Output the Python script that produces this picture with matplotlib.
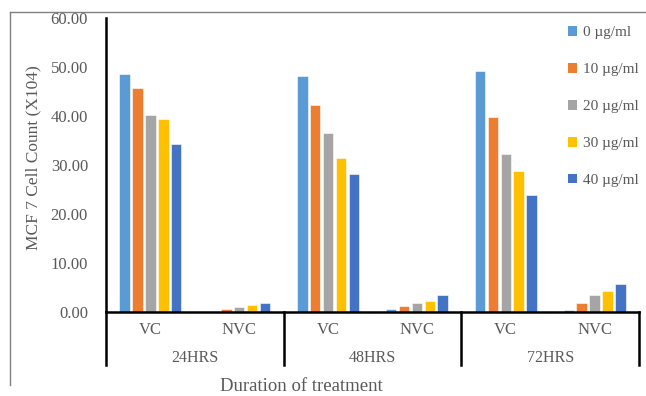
import matplotlib.pyplot as plt
import matplotlib
import numpy as np
from matplotlib.patches import Patch

matplotlib.rcParams['font.family'] = ['Liberation Serif', 'DejaVu Serif']

durations = ['24HRS', '48HRS', '72HRS']
subgroups = ['VC', 'NVC']
doses = ['0 µg/ml', '10 µg/ml', '20 µg/ml', '30 µg/ml', '40 µg/ml']
colors = ['#5B9BD5', '#ED7D31', '#A5A5A5', '#FFC000', '#4472C4']

# one list per dose, order: 24VC, 24NVC, 48VC, 48NVC, 72VC, 72NVC
dose_0 = [48.5, 0.0, 48.2, 0.6, 49.2, 0.5]
dose_10 = [45.7, 0.6, 42.3, 1.3, 39.7, 1.8]
dose_20 = [40.2, 1.0, 36.6, 1.8, 32.2, 3.5]
dose_30 = [39.4, 1.4, 31.4, 2.3, 28.7, 4.2]
dose_40 = [34.2, 1.9, 28.2, 3.5, 23.8, 5.8]
series = [dose_0, dose_10, dose_20, dose_30, dose_40]

grey = '#595959'

fig = plt.figure(figsize=(6.46, 3.96), dpi=100)
ax = fig.add_axes([106 / 646, 1 - 312 / 396, (639 - 106) / 646, (312 - 18) / 396])

x = np.arange(len(durations) * len(subgroups))
slot = 0.145
width = 0.118
for i, (vals, c) in enumerate(zip(series, colors)):
    ax.bar(x + (i - 2) * slot, vals, width=width, color=c,
           edgecolor='white', linewidth=0.4, label=doses[i])

ax.set_xlim(-0.5, len(x) - 0.5)
ax.set_ylim(0, 60)
ax.set_yticks(np.arange(0, 61, 10))
ax.set_yticklabels([f'{v:.2f}' for v in np.arange(0, 61, 10)])
ax.tick_params(axis='y', length=0, pad=13, labelsize=12, labelcolor=grey)
ax.set_xticks([])

for s in ['top', 'right']:
    ax.spines[s].set_visible(False)
ax.spines['left'].set_linewidth(1.8)
ax.spines['bottom'].set_linewidth(1.8)

# two-level category axis
trans = ax.get_xaxis_transform()
for i, lab in enumerate(subgroups * len(durations)):
    ax.text(x[i], -0.06, lab, transform=trans, ha='center', va='center',
            fontsize=12, color=grey)
for j, lab in enumerate(durations):
    ax.text(2 * j + 0.5, -0.155, lab, transform=trans, ha='center',
            va='center', fontsize=11.5, color=grey)
for b in np.arange(-0.5, len(x), 2):
    ax.plot([b, b], [0, -0.18], transform=trans, color='black',
            lw=1.8, clip_on=False)

ax.set_ylabel('MCF 7 Cell Count (X104)', fontsize=12.5, color=grey)
ax.yaxis.set_label_coords(-0.122, 0.524)
fig.text(301 / 646, 1 / 396, 'Duration of treatment', ha='center',
         va='bottom', fontsize=13.5, color=grey)

handles = [Patch(facecolor=c, edgecolor='none') for c in colors]
leg = fig.legend(handles, doses, loc='upper left',
                 bbox_to_anchor=(562 / 646, 1 - 20 / 396), frameon=False,
                 fontsize=11, handlelength=0.6, handleheight=0.6,
                 handletextpad=0.4, labelspacing=1.55, borderaxespad=0)
for t in leg.get_texts():
    t.set_color(grey)

# outer chart frame
fig.add_artist(plt.Line2D([10 / 646, 1], [1 - 12 / 396, 1 - 12 / 396],
                          color='#808080', lw=1))
fig.add_artist(plt.Line2D([10 / 646, 10 / 646], [1 - 12 / 396, 1 - 385 / 396],
                          color='#808080', lw=1))

plt.savefig('out.png', dpi=100)
